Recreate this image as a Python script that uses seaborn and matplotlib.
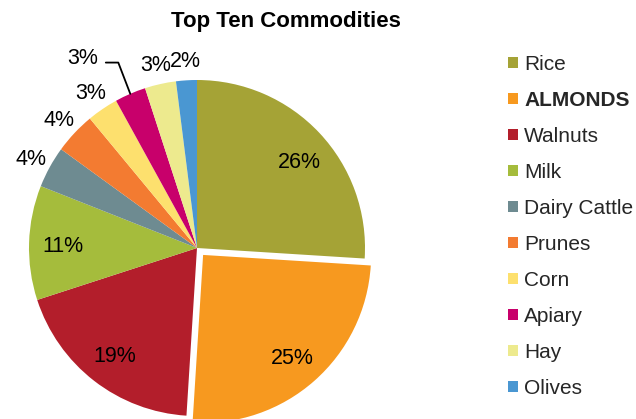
import numpy as np
import matplotlib
matplotlib.use("Agg")
import matplotlib.pyplot as plt
import seaborn as sns
from matplotlib.patches import Patch

categories = ["Rice", "ALMONDS", "Walnuts", "Milk", "Dairy Cattle", "Prunes",
              "Corn", "Apiary", "Hay", "Olives"]
shares = [26, 25, 19, 11, 4, 4, 3, 3, 3, 2]
colors = ["#A5A336", "#F7991F", "#B31E2B", "#A5BC3C", "#6E8B91", "#F37B31",
          "#FDE06E", "#C8006B", "#EDEA8E", "#4A97D2"]
explode = [0, 0.055, 0, 0, 0, 0, 0, 0, 0, 0]

sns.set_theme(style="white")
plt.rcParams['font.family'] = ['Liberation Sans', 'DejaVu Sans']

W, H = 636, 419
fig = plt.figure(figsize=(W / 100, H / 100), dpi=100)
R = 168.0
cx, cy = 197.0, H - 248.0
L = 1.45
size = 2 * L * R
ax = fig.add_axes([(cx - size / 2) / W, (cy - size / 2) / H, size / W, size / H])

wedges, texts = ax.pie(shares, colors=colors, explode=explode, startangle=90,
                       counterclock=False, radius=1.0,
                       wedgeprops=dict(linewidth=0))
ax.set_xlim(-L, L)
ax.set_ylim(-L, L)
ax.set_aspect('equal')
ax.axis('off')

FS = 15.5
for i, w in enumerate(wedges):
    ang = np.deg2rad((w.theta1 + w.theta2) / 2)
    ox, oy = w.center
    lbl = f"{shares[i]}%"
    if shares[i] >= 10:
        r = 0.8
        a2 = ang - np.deg2rad(2.5) if i == 0 else ang
        ax.text(ox + r * np.cos(a2), oy + r * np.sin(a2), lbl, ha='center',
                va='center_baseline', fontsize=FS, color='black')
    elif categories[i] == "Apiary":
        tang = np.deg2rad(120.7)
        tr = 1.33
        ax.annotate(lbl, xy=(np.cos(ang), np.sin(ang)),
                    xytext=(tr * np.cos(tang), tr * np.sin(tang)),
                    ha='center', va='center_baseline', fontsize=FS, color='black',
                    arrowprops=dict(arrowstyle='-', color='black', lw=1.3,
                                    shrinkA=3, shrinkB=0, relpos=(1.0, 0.3),
                                    connectionstyle='angle,angleA=0,angleB=111,rad=0'),
                    annotation_clip=False)
    else:
        r = 1.13
        ax.text(r * np.cos(ang), r * np.sin(ang), lbl, ha='center',
                va='center_baseline', fontsize=FS, color='black', clip_on=False)

fig.text(285.5 / W, 1 - 21 / H, "Top Ten Commodities", ha='center', va='center',
         fontsize=16, fontweight='bold', color='black')

LFS = 15
px = LFS * 100 / 72
handles = [Patch(facecolor=c, edgecolor='none') for c in colors]
leg = fig.legend(handles, categories, loc='upper left',
                 bbox_to_anchor=(508 / W, 1 - 55 / H), frameon=False,
                 fontsize=LFS, handlelength=10 / px, handleheight=10 / px,
                 handletextpad=6 / px, labelspacing=0.815, borderaxespad=0,
                 borderpad=0)
for t in leg.get_texts():
    if t.get_text() == "ALMONDS":
        t.set_fontweight('bold')

fig.savefig("out.png", dpi=100)
